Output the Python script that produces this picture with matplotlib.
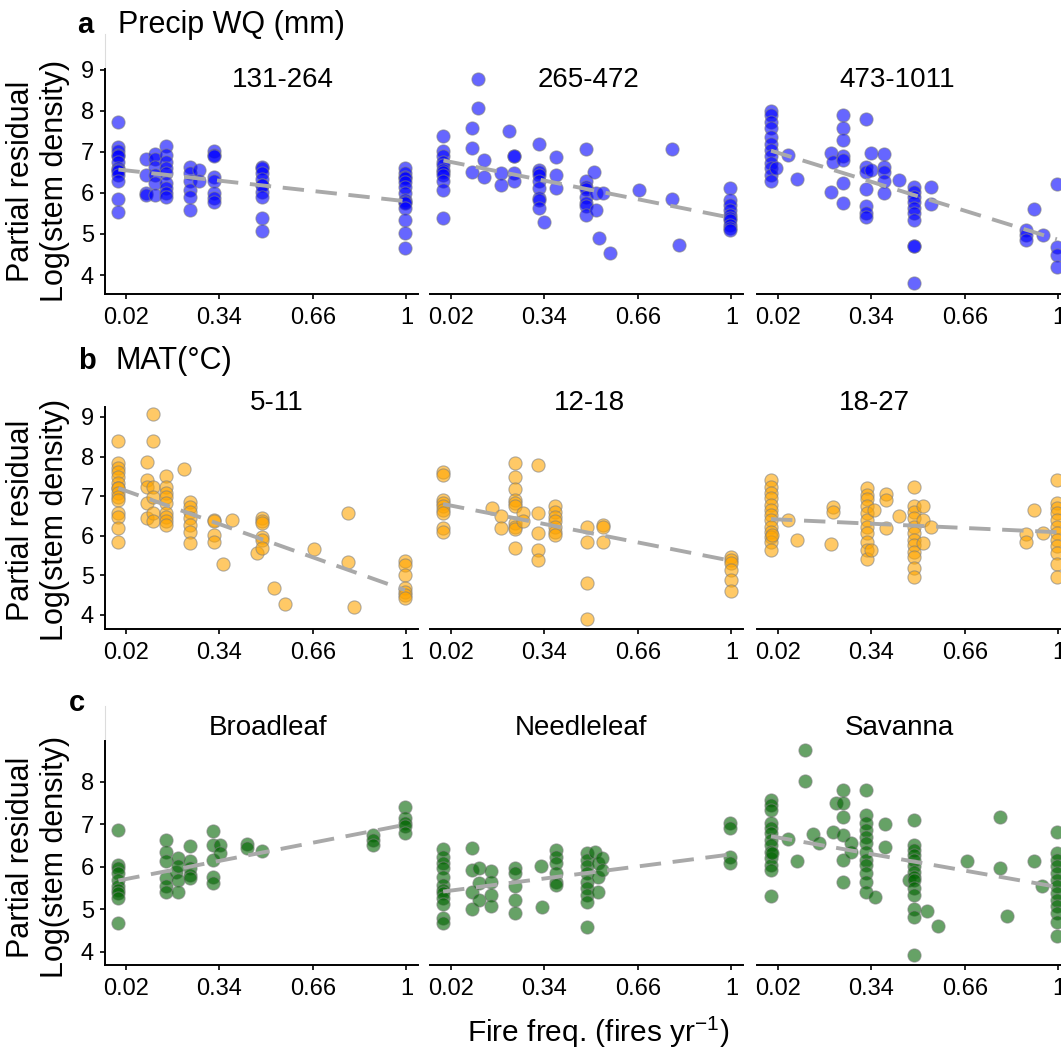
import matplotlib

matplotlib.use("Agg")
import matplotlib.pyplot as plt

plt.rcParams.update({
    "font.family": ["Liberation Sans", "DejaVu Sans"],
    "mathtext.fontset": "custom",
    "mathtext.rm": "Liberation Sans",
    "mathtext.it": "Liberation Sans:italic",
    "mathtext.default": "regular",
    "xtick.labelsize": 17,
    "ytick.labelsize": 17,
})

# Each stack is (fire frequency, [partial residuals of log stem density]).
# --- a: precipitation of the wettest quarter
PRECIP_131_264 = [
    (-0.006, [7.72, 7.13, 7.01, 6.92, 6.89, 6.76, 6.60, 6.56, 6.54, 6.44, 6.28, 5.85, 5.53]),
    (0.088, [6.82, 6.44, 5.99, 5.95]),
    (0.118, [6.95, 6.82, 6.64, 6.44, 6.24, 5.95]),
    (0.157, [7.15, 6.93, 6.75, 6.60, 6.48, 6.24, 6.11, 5.99, 5.91]),
    (0.239, [6.64, 6.48, 6.28, 6.07, 5.91, 5.59]),
    (0.271, [6.55, 6.30]),
    (0.321, [7.01, 6.93, 6.90, 6.40, 6.30, 5.99, 5.87, 5.79]),
    (0.487, [6.64, 6.60, 6.48, 6.35, 6.20, 6.20, 6.03, 5.91, 5.38, 5.07]),
    (0.975, [6.60, 6.48, 6.40, 6.36, 6.26, 6.15, 5.99, 5.83, 5.79, 5.75, 5.63, 5.34, 5.02, 4.67]),
]
PRECIP_265_472 = [
    (-0.006, [7.39, 7.01, 6.89, 6.76, 6.68, 6.56, 6.52, 6.44, 6.28, 6.07, 5.38]),
    (0.091, [7.58, 7.09, 6.52]),
    (0.114, [8.78, 8.07]),
    (0.133, [6.80, 6.40]),
    (0.190, [6.48, 6.20]),
    (0.219, [7.52]),
    (0.236, [6.89, 6.89, 6.48, 6.28]),
    (0.321, [7.20, 6.56, 6.52, 6.44, 6.28, 6.11, 5.87, 5.83, 5.63]),
    (0.340, [5.30]),
    (0.380, [6.87, 6.44, 6.13]),
    (0.483, [7.07, 6.28, 6.15, 6.10, 5.91, 5.75, 5.67, 5.46]),
    (0.510, [6.52]),
    (0.515, [5.99, 5.59]),
    (0.527, [4.91]),
    (0.540, [5.99]),
    (0.563, [4.53]),
    (0.664, [6.06]),
    (0.778, [7.07, 5.85]),
    (0.801, [4.73]),
    (0.975, [6.13, 5.83, 5.71, 5.59, 5.46, 5.40, 5.34, 5.22, 5.14, 5.10]),
]
PRECIP_473_1011 = [
    (-0.004, [8.00, 7.90, 7.74, 7.58, 7.37, 7.20, 7.05, 6.89, 6.72, 6.60, 6.44, 6.28]),
    (0.013, [6.60]),
    (0.053, [6.93]),
    (0.085, [6.34]),
    (0.200, [6.97, 6.03]),
    (0.209, [6.76]),
    (0.241, [7.89, 7.58, 7.28, 6.89, 6.80, 6.24, 5.75]),
    (0.321, [7.80, 6.64, 6.52, 6.09, 5.67, 5.50, 5.42]),
    (0.338, [6.97, 6.56]),
    (0.384, [6.95, 6.64, 6.52, 6.28, 5.99]),
    (0.435, [6.32]),
    (0.487, [6.15, 6.03, 5.91, 5.79, 5.63, 5.50, 5.34, 4.71, 4.71, 3.80]),
    (0.544, [6.15, 5.73]),
    (0.869, [5.10, 4.98, 4.86]),
    (0.896, [5.61]),
    (0.926, [4.98]),
    (0.975, [6.22, 4.69, 4.49, 4.20]),
]

# --- b: mean annual temperature
MAT_5_11 = [
    (-0.006, [8.40, 7.83, 7.70, 7.62, 7.49, 7.32, 7.20, 7.20, 7.07, 6.99, 6.90, 6.57, 6.48, 6.19, 5.83]),
    (0.091, [7.87, 7.41, 7.24, 6.82, 6.44]),
    (0.114, [9.08, 8.38, 7.24, 6.99, 6.57, 6.36]),
    (0.157, [7.51, 7.24, 7.07, 6.99, 6.82, 6.57, 6.48, 6.36, 6.27]),
    (0.219, [7.68]),
    (0.239, [6.86, 6.73, 6.61, 6.44, 6.27, 6.10, 5.81]),
    (0.321, [6.40, 6.36, 6.02, 5.85]),
    (0.351, [5.29]),
    (0.382, [6.40]),
    (0.468, [5.56]),
    (0.485, [6.44, 6.36, 6.32, 5.98, 5.89, 5.68]),
    (0.527, [4.69]),
    (0.565, [4.27]),
    (0.664, [5.67]),
    (0.781, [6.57, 5.33]),
    (0.802, [4.19]),
    (0.975, [5.35, 5.25, 5.01, 4.67, 4.59, 4.50, 4.42]),
]
MAT_12_18 = [
    (-0.007, [7.62, 7.54, 6.90, 6.82, 6.74, 6.65, 6.57, 6.19, 6.10]),
    (0.159, [6.69]),
    (0.190, [6.50, 6.19]),
    (0.239, [7.83, 7.49, 7.17, 6.90, 6.82, 6.74, 6.31, 6.23, 6.16, 5.68]),
    (0.267, [6.57, 6.36]),
    (0.318, [7.79, 6.57, 6.06, 5.64, 5.39]),
    (0.376, [6.74, 6.61, 6.48, 6.36, 6.23, 6.10, 6.02]),
    (0.485, [6.23, 5.84, 4.80, 3.89]),
    (0.541, [6.27, 6.23, 5.85]),
    (0.978, [5.47, 5.39, 5.30, 5.14, 4.88, 4.61]),
]
MAT_18_27 = [
    (-0.004, [7.41, 7.24, 7.07, 6.95, 6.78, 6.65, 6.53, 6.40, 6.23, 6.10, 5.98, 5.85, 5.64]),
    (-0.001, [6.02]),
    (0.053, [6.40]),
    (0.085, [5.89]),
    (0.200, [5.79]),
    (0.207, [6.72, 6.61]),
    (0.324, [7.20, 7.03, 6.92, 6.74, 6.57, 6.40, 6.23, 6.08, 5.85, 5.64, 5.41]),
    (0.338, [5.64]),
    (0.350, [6.65]),
    (0.390, [7.06, 6.90, 6.19]),
    (0.435, [6.50]),
    (0.487, [7.24, 6.74, 6.61, 6.44, 6.23, 6.06, 5.89, 5.77, 5.60, 5.47, 5.18, 4.97]),
    (0.515, [6.75, 6.40, 5.81]),
    (0.544, [6.23]),
    (0.869, [6.04, 5.85]),
    (0.898, [6.65]),
    (0.926, [6.08]),
    (0.975, [7.41, 6.82, 6.70, 6.57, 6.40, 6.23, 6.06, 5.89, 5.73, 5.56, 5.29, 4.97]),
]

# --- c: vegetation type
BROADLEAF = [
    (-0.006, [6.87, 6.05, 5.97, 5.85, 5.69, 5.54, 5.46, 5.38, 5.26, 4.67]),
    (0.156, [6.64, 6.36, 6.13, 5.73, 5.54, 5.42]),
    (0.190, [5.89]),
    (0.199, [6.20, 6.01, 5.69, 5.42]),
    (0.239, [6.48, 6.13, 5.97, 5.81, 5.73]),
    (0.319, [6.85, 6.52, 6.16, 5.77, 5.63]),
    (0.342, [6.52, 6.32]),
    (0.433, [6.53, 6.44]),
    (0.487, [6.38]),
    (0.867, [6.75, 6.64, 6.52]),
    (0.975, [7.40, 7.15, 7.03, 6.95, 6.79]),
]
NEEDLELEAF = [
    (-0.007, [6.42, 6.24, 6.09, 5.97, 5.77, 5.58, 5.46, 5.38, 5.26, 5.13, 4.79, 4.67]),
    (0.091, [6.45, 5.93, 5.42, 5.00]),
    (0.116, [5.97, 5.62, 5.22]),
    (0.156, [5.91, 5.65, 5.34, 5.07]),
    (0.239, [5.97, 5.85, 5.54, 5.22, 4.91]),
    (0.327, [6.01]),
    (0.330, [5.05]),
    (0.378, [6.40, 6.24, 6.09, 5.85, 5.65, 5.58]),
    (0.485, [6.32, 6.16, 6.01, 5.85, 5.65, 5.50, 5.34, 5.18, 4.58]),
    (0.513, [6.36]),
    (0.525, [6.09, 5.77, 5.42]),
    (0.538, [6.20, 5.93]),
    (0.974, [7.04, 6.91, 6.24, 6.09]),
]
SAVANNA = [
    (-0.004, [7.58, 7.46, 7.34, 7.03, 6.91, 6.79, 6.64, 6.52, 6.36, 6.20, 6.05, 5.93, 5.32]),
    (-0.001, [6.32]),
    (0.053, [6.66]),
    (0.085, [6.13]),
    (0.114, [8.75, 8.03]),
    (0.139, [6.78]),
    (0.162, [6.57]),
    (0.210, [6.83]),
    (0.219, [7.51]),
    (0.241, [7.81, 7.50, 7.17, 6.75, 6.16, 5.65]),
    (0.270, [6.57, 6.34]),
    (0.321, [7.80, 7.22, 7.03, 6.87, 6.71, 6.56, 6.36, 6.16, 6.05, 5.85, 5.65, 5.42]),
    (0.353, [5.30]),
    (0.388, [7.01, 6.46]),
    (0.470, [5.69]),
    (0.487, [7.11, 6.52, 6.40, 6.28, 6.16, 6.01, 5.89, 5.77, 5.69, 5.50, 5.34, 5.02, 4.83, 3.93]),
    (0.530, [4.97]),
    (0.567, [4.60]),
    (0.667, [6.13]),
    (0.781, [7.18, 5.97]),
    (0.803, [4.85]),
    (0.898, [6.13]),
    (0.924, [5.54]),
    (0.975, [6.81, 6.32, 6.16, 6.01, 5.85, 5.69, 5.54, 5.38, 5.22, 5.07, 4.91, 4.71, 4.38]),
]

# fitted partial-residual line: value at the lowest and at the highest fire frequency
TREND_PRECIP = [(6.57, 5.80), (6.79, 5.40), (7.03, 4.87)]
TREND_MAT = [(7.20, 4.63), (6.80, 5.37), (6.42, 6.09)]
TREND_VEG = [(5.68, 6.99), (5.42, 6.29), (6.72, 5.53)]

PRECIP_BINS = ["131-264", "265-472", "473-1011"]
MAT_BINS = ["5-11", "12-18", "18-27"]
VEG_TYPES = ["Broadleaf", "Needleleaf", "Savanna"]

X_TICKS = [0.02, 0.34, 0.66, 0.98]
X_TICKLABELS = ["0.02", "0.34", "0.66", "1"]
Y_TICKS = [4, 5, 6, 7, 8, 9]

W, H = 1061, 1055


def fx(px):
    return px / W


def fy(py):
    return 1 - py / H


def main():
    fig = plt.figure(figsize=(W / 100, H / 100), dpi=100)

    rows = [
        dict(tag="a", head="Precip WQ (mm)", color="blue", titles=PRECIP_BINS,
             data=[PRECIP_131_264, PRECIP_265_472, PRECIP_473_1011], trend=TREND_PRECIP,
             box=(69, 294), ylim=(3.537, 9.02), tag_xy=(85, 33), head_x=118, ylab_y=181,
             title_x=[0.569, 0.505, 0.447], title_y=0.92, stub=True),
        dict(tag="b", head="MAT(°C)", color="orange", titles=MAT_BINS,
             data=[MAT_5_11, MAT_12_18, MAT_18_27], trend=TREND_MAT,
             box=(407, 629), ylim=(3.646, 9.25), tag_xy=(87, 369), head_x=115, ylab_y=520,
             title_x=[0.55, 0.508, 0.374], title_y=0.986, stub=False),
        dict(tag="c", head=None, color="darkgreen", titles=VEG_TYPES,
             data=[BROADLEAF, NEEDLELEAF, SAVANNA], trend=TREND_VEG,
             box=(741, 965), ylim=(3.694, 8.96), tag_xy=(77, 711), head_x=None, ylab_y=857,
             title_x=[0.521, 0.482, 0.454], title_y=1.027, stub=True),
    ]
    col_left = [105, 430, 757]
    col_w = 313

    for row in rows:
        top, bot = row["box"]
        for j, left in enumerate(col_left):
            ax = fig.add_axes([fx(left), fy(bot), col_w / W, (bot - top) / H])
            xs = [x for x, ys in row["data"][j] for _ in ys]
            ys = [y for _, stack in row["data"][j] for y in stack]
            ax.scatter(xs, ys, s=90, color=row["color"], edgecolors="gray",
                       linewidths=0.8, alpha=0.6, zorder=2)
            y0, y1 = row["trend"][j]
            ax.plot([min(xs), max(xs)], [y0, y1], color="darkgray", lw=2.8,
                    dashes=(5.5, 3.0), solid_capstyle="butt", zorder=3)

            # ticks first: set_ticks widens the view to fit them, the limits then trim back
            ax.set_xticks(X_TICKS)
            ax.set_xticklabels(X_TICKLABELS)
            ax.set_yticks(Y_TICKS)
            ax.set_xlim(-0.052, 1.020)
            ax.set_ylim(*row["ylim"])
            for side in ("top", "right"):
                ax.spines[side].set_visible(False)
            ax.spines["bottom"].set_linewidth(1.4)
            ax.spines["left"].set_linewidth(1.4)
            ax.tick_params(axis="x", direction="out", length=3.6, width=1.2, pad=6)
            ax.tick_params(axis="y", direction="out", length=3.6, width=1.2, pad=4.5)
            if j == 0:
                if row["stub"]:
                    ax.plot([0, 0], [1, 1 + 35 / (bot - top)], transform=ax.transAxes,
                            clip_on=False, color="#dcdcdc", lw=0.8)
            else:
                ax.spines["left"].set_visible(False)
                ax.tick_params(axis="y", left=False, labelleft=False)
            ax.text(row["title_x"][j], row["title_y"], row["titles"][j], transform=ax.transAxes,
                    ha="center", va="baseline", fontsize=20)

        tx, ty = row["tag_xy"]
        fig.text(fx(tx), fy(ty), row["tag"], ha="center", va="baseline",
                 fontsize=21, fontweight="bold")
        if row["head"]:
            fig.text(fx(row["head_x"]), fy(ty), row["head"], ha="left", va="baseline",
                     fontsize=22)
        fig.text(fx(38), fy(row["ylab_y"]), "Partial residual\nLog(stem density)",
                 rotation=90, ha="center", va="center", multialignment="center",
                 fontsize=22, linespacing=1.2)

    fig.text(fx(598), fy(1042), r"Fire freq. (fires yr$^{-1}$)", ha="center",
             va="baseline", fontsize=21.5)

    fig.savefig("out.png", dpi=100)
    plt.close(fig)


if __name__ == "__main__":
    main()
